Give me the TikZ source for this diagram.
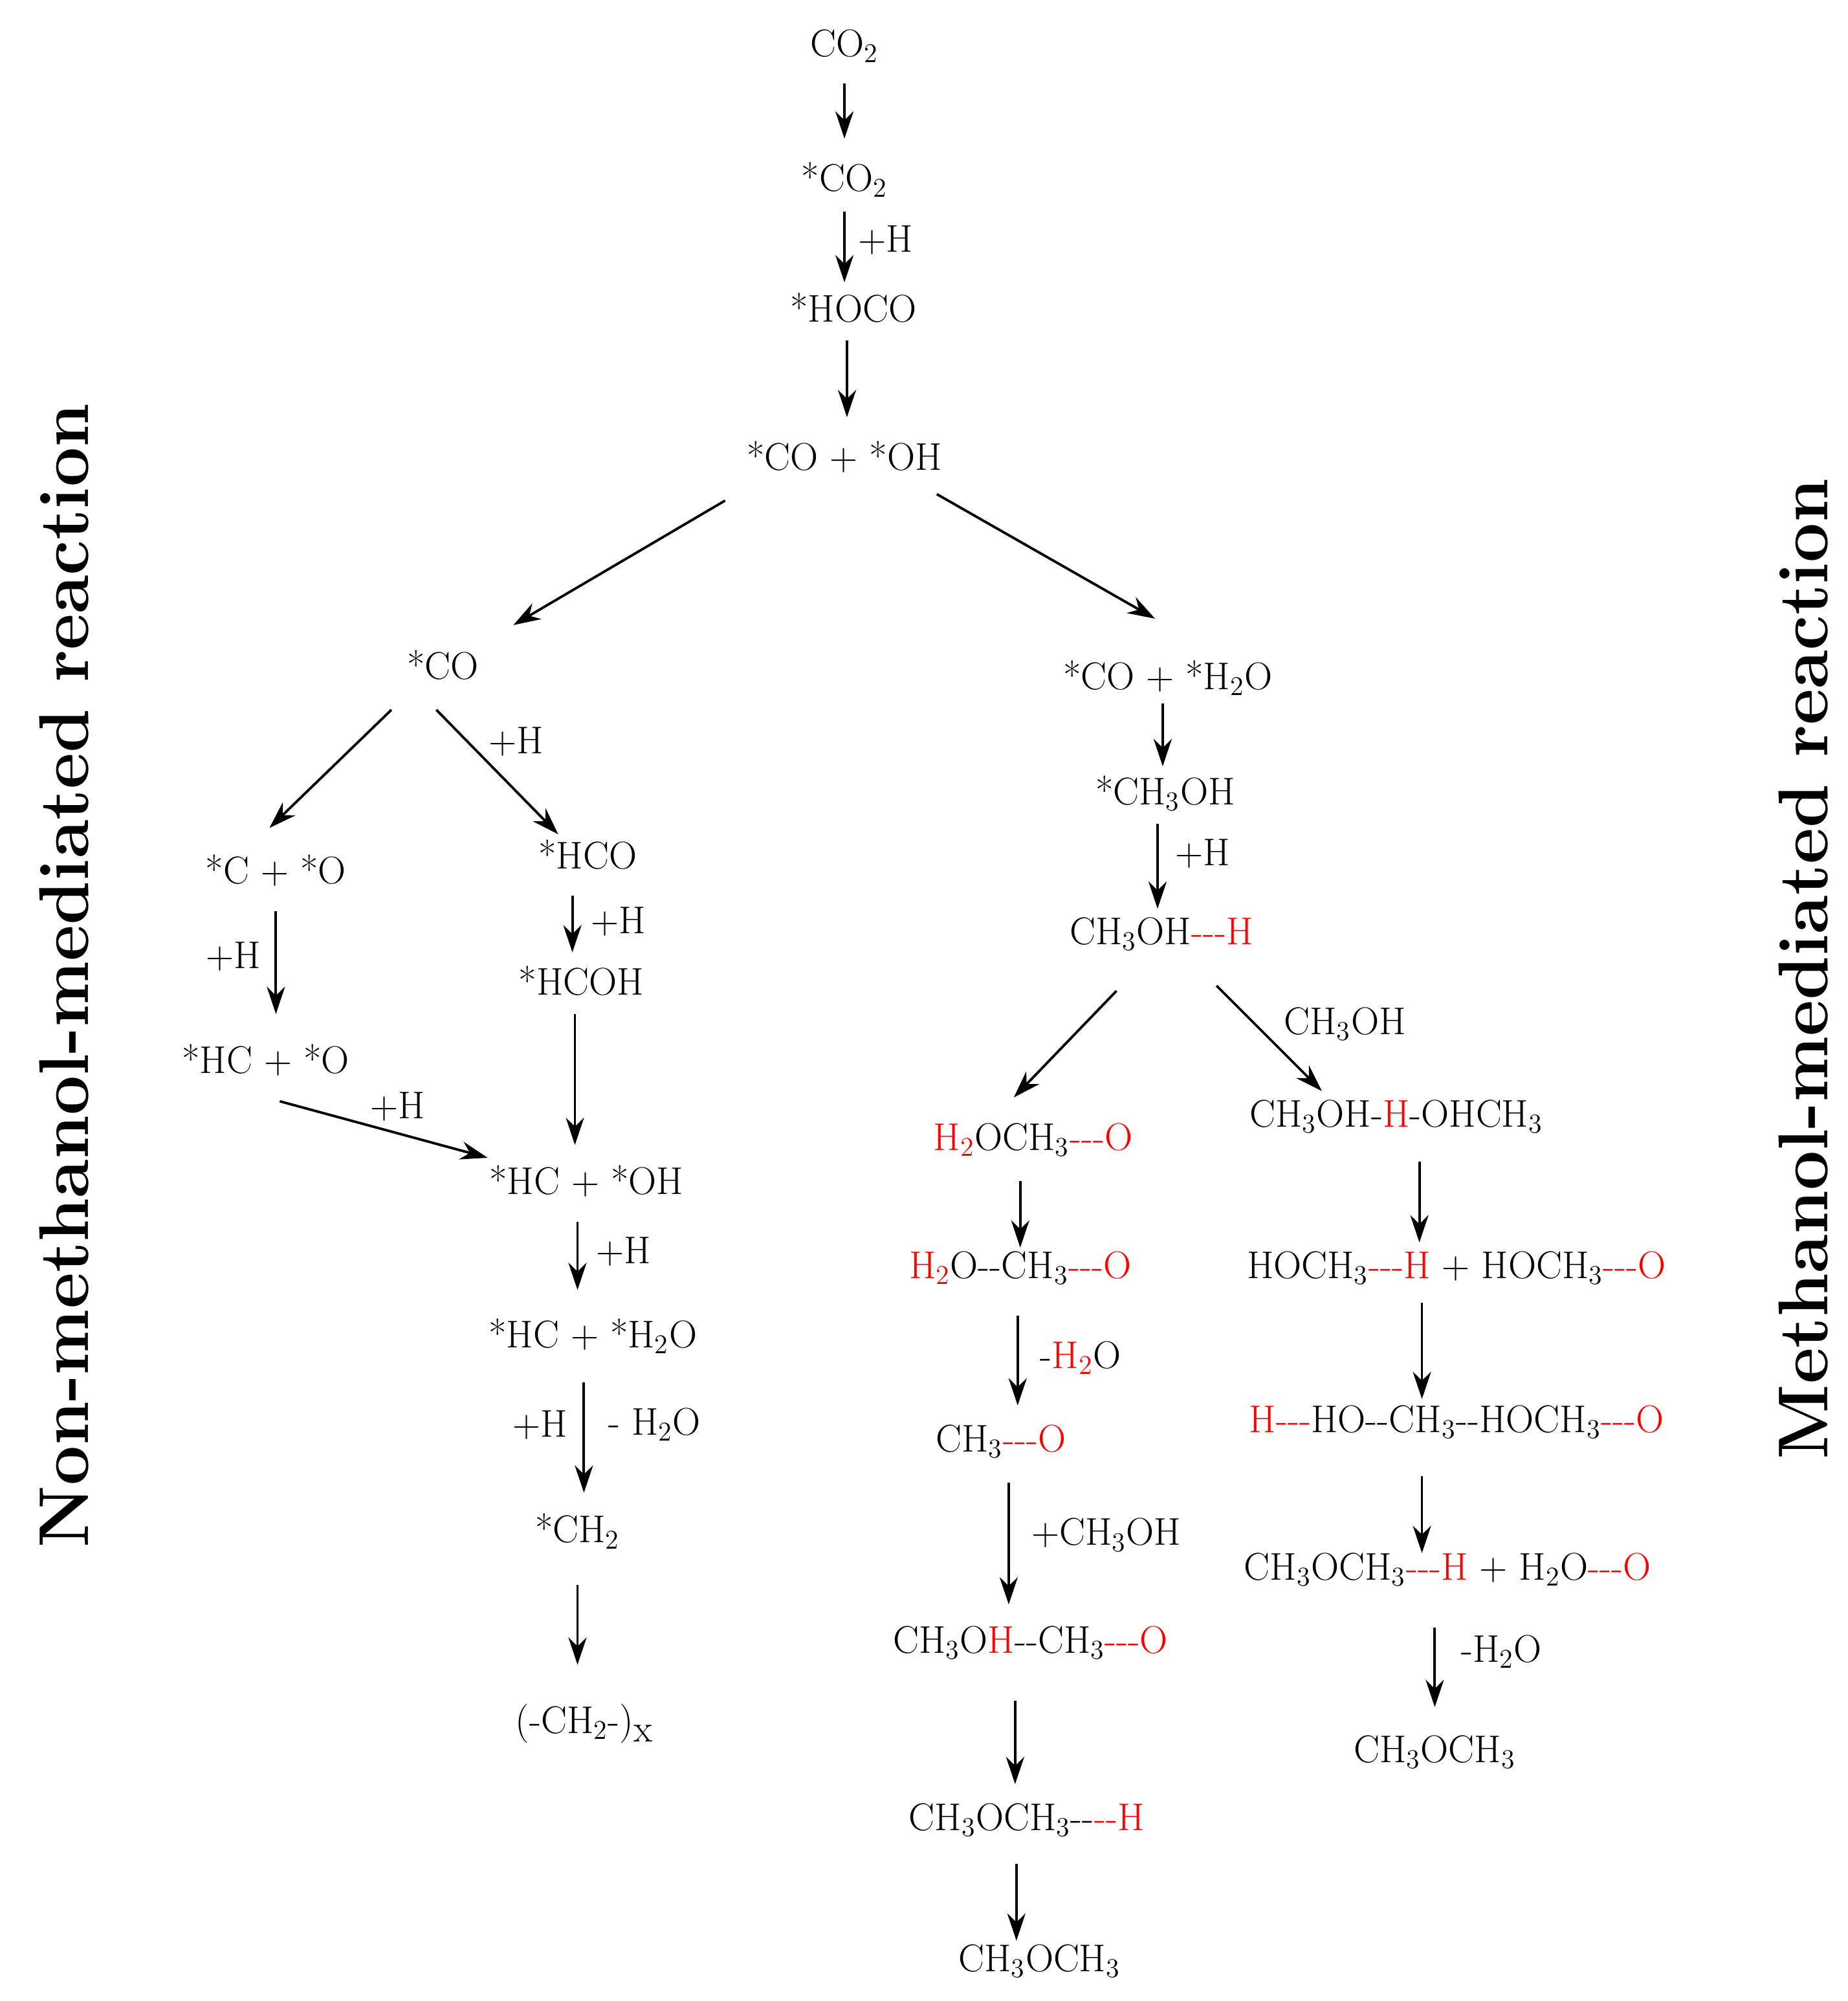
\documentclass[tikz,border=0pt]{standalone}
\usetikzlibrary{arrows.meta}
\newcommand\sbs[1]{\textsubscript{#1}}
\newcommand\rd[1]{\textcolor{red}{#1}}
\newcommand\tri{-{}-{}-}
\newcommand\dbl{-{}-}
\begin{document}
\begin{tikzpicture}[x=0.01983cm,y=-0.01983cm,
  sp/.style={font=\fontsize{17}{20}\selectfont,inner sep=1pt},
  lb/.style={font=\fontsize{17}{20}\selectfont,inner sep=1pt},
  ar/.style={-{Stealth[length=12pt,width=8pt]},line width=1.1pt},
  side/.style={font=\fontsize{31}{36}\selectfont\bfseries,rotate=90}]
\useasboundingbox (0,0) rectangle (1440,1559);
\node[sp] (co2) at (658,36) {CO\sbs{2}};
\node[sp] (sco2) at (658,140) {*CO\sbs{2}};
\node[sp] (hoco) at (665,240) {*HOCO};
\node[sp] (cooh) at (658,356) {*CO + *OH};
\node[sp] (co) at (345,518) {*CO};
\node[sp] (coh2o) at (910,528) {*CO + *H\sbs{2}O};
\node[sp] (ch3oh) at (908,618) {*CH\sbs{3}OH};
\node[sp] (ch3ohh) at (905,728) {CH\sbs{3}OH\rd{\tri H}};
\node[sp] (co2b) at (215,678) {*C + *O};
\node[sp] (hco) at (458,666) {*HCO};
\node[sp] (hcoh) at (453,764) {*HCOH};
\node[sp] (hco2) at (207,826) {*HC + *O};
\node[sp] (hcoh2) at (457,920) {*HC + *OH};
\node[sp] (hch2o) at (462,1041) {*HC + *H\sbs{2}O};
\node[sp] (ch2) at (450,1193) {*CH\sbs{2}};
\node[sp] (poly) at (455,1343) {$\bigl($-CH\sbs{2}-$\bigr)$\raisebox{-0.5ex}{x}};
\node[sp] (a1) at (805,888) {\rd{H\sbs{2}}OCH\sbs{3}\rd{\tri O}};
\node[sp] (a2) at (795,988) {\rd{H\sbs{2}}O\dbl CH\sbs{3}\rd{\tri O}};
\node[sp] (a3) at (780,1123) {CH\sbs{3}\rd{\tri O}};
\node[sp] (a4) at (803,1280) {CH\sbs{3}O\rd{H}\dbl CH\sbs{3}\rd{\tri O}};
\node[sp] (a5) at (800,1418) {CH\sbs{3}OCH\sbs{3}\dbl\rd{\dbl H}};
\node[sp] (a6) at (810,1528) {CH\sbs{3}OCH\sbs{3}};
\node[sp] (b1) at (1088,870) {CH\sbs{3}OH-\rd{H}-OHCH\sbs{3}};
\node[sp] (b2) at (1135,988) {HOCH\sbs{3}\rd{\tri H} + HOCH\sbs{3}\rd{\tri O}};
\node[sp] (b3) at (1135,1108) {\rd{H\tri}HO\dbl CH\sbs{3}\dbl HOCH\sbs{3}\rd{\tri O}};
\node[sp] (b4) at (1128,1223) {CH\sbs{3}OCH\sbs{3}\rd{\tri H} + H\sbs{2}O\rd{\tri O}};
\node[sp] (b5) at (1118,1365) {CH\sbs{3}OCH\sbs{3}};
\node[side] (L) at (50,760) {Non-methanol-mediated reaction};
\node[side] (R) at (1405,755) {Methanol-mediated reaction};
% arrows
\draw[ar] (658,65) -- (658,108);
\draw[ar] (658,165) -- (658,220); \node[lb] (l1) at (690,187) {+H};
\draw[ar] (660,265) -- (660,325);
\draw[ar] (565,390) -- (400,487);
\draw[ar] (730,385) -- (900,482);
\draw[ar] (906,548) -- (906,597);
\draw[ar] (902,642) -- (902,708); \node[lb] (l2) at (937,665) {+H};
\draw[ar] (305,553) -- (210,645);
\draw[ar] (340,553) -- (435,650); \node[lb] (l3) at (402,578) {+H};
\draw[ar] (215,710) -- (215,790); \node[lb] (l4) at (182,745) {+H};
\draw[ar] (446,698) -- (446,742); \node[lb] (l5) at (482,718) {+H};
\draw[ar] (448,790) -- (448,892);
\draw[ar] (218,858) -- (380,902); \node[lb] (l6) at (310,862) {+H};
\draw[ar] (450,952) -- (450,1005); \node[lb] (l7) at (486,975) {+H};
\draw[ar] (455,1077) -- (455,1163); \node[lb] (l8) at (421,1110) {+H}; \node[lb] (l9) at (510,1110) {- H\sbs{2}O};
\draw[ar] (450,1235) -- (450,1297);
\draw[ar] (870,772) -- (790,855);
\draw[ar] (948,768) -- (1030,850); \node[lb] (l10) at (1048,798) {CH\sbs{3}OH};
\draw[ar] (795,920) -- (795,972);
\draw[ar] (793,1025) -- (793,1095); \node[lb] (l11) at (842,1058) {-\rd{H\sbs{2}}O};
\draw[ar] (786,1155) -- (786,1250); \node[lb] (l12) at (862,1196) {+CH\sbs{3}OH};
\draw[ar] (791,1325) -- (791,1390);
\draw[ar] (792,1452) -- (792,1512);
\draw[ar] (1106,905) -- (1106,968);
\draw[ar] (1108,1015) -- (1108,1090);
\draw[ar] (1108,1150) -- (1108,1210);
\draw[ar] (1118,1268) -- (1118,1330); \node[lb] (l13) at (1170,1287) {-H\sbs{2}O};
\end{tikzpicture}
\end{document}
